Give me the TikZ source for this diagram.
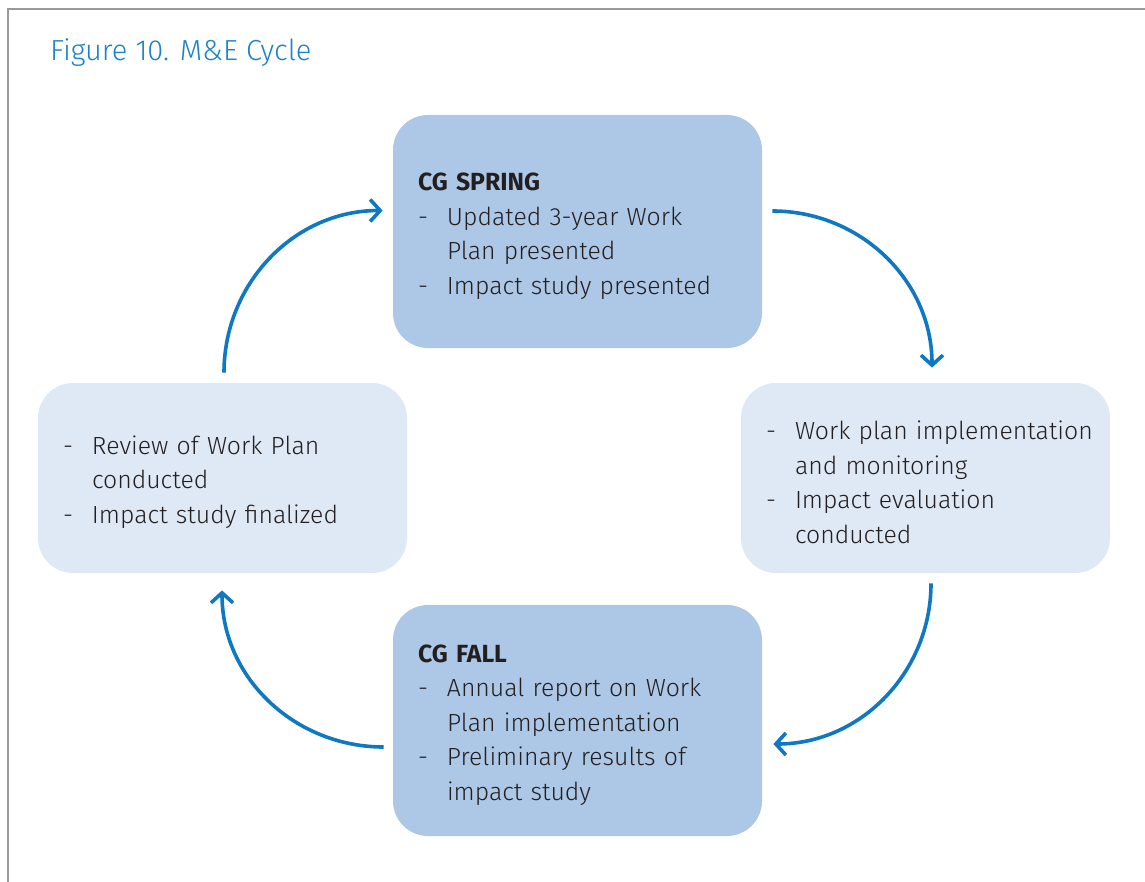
\documentclass[tikz,border=0pt]{standalone}
\usepackage{fontspec}
\setmainfont{Fira Sans Light}[BoldFont={Fira Sans Bold}]
\usepackage{tikz}
\usetikzlibrary{arrows.meta}
\definecolor{cgblue}{HTML}{ADC8E6}
\definecolor{paleblue}{HTML}{DEE9F5}
\definecolor{arrowblue}{HTML}{0E78C2}
\definecolor{titleblue}{HTML}{1B82C8}
\definecolor{textgray}{HTML}{231F20}
\newcommand\dashitem[1]{\makebox[14.5pt][l]{-}\mbox{#1}}
\newcommand\contline[1]{\hspace*{14.5pt}\mbox{#1}}
\newcommand\firstline{\rule{0pt}{13.5pt}}
\tikzset{
  phase/.style={draw=none, rounded corners=17.5pt, minimum width=184.5pt,
    text width=159.5pt, inner xsep=12.5pt, align=left, text=textgray,
    font=\fontsize{12.4}{17.25}\selectfont},
  cgbox/.style={phase, fill=cgblue},
  workbox/.style={phase, fill=paleblue},
  cyclearrow/.style={arrowblue, line width=1.8pt,
    -{Straight Barb[length=5pt,width=11pt,line width=1.8pt]}}
}

\begin{document}
\begin{tikzpicture}[x=0.5pt,y=-0.5pt]
\useasboundingbox (0,0) rectangle (1145,882);
\draw[gray!80, line width=1pt] (8,882) -- (8,9) -- (1145,9);
\node[anchor=west, text=titleblue, font=\fontsize{14.5}{17}\selectfont] (title) at (43,53) {Figure 10. M\&E Cycle};
\node[cgbox, minimum height=116.5pt] (spring) at (577.5,231.5)
  {\firstline\textbf{CG SPRING}\\ \dashitem{Updated 3-year Work}\\ \contline{Plan presented}\\ \dashitem{Impact study presented}};
\node[workbox, minimum height=95pt] (implement) at (925.5,478)
  {\firstline\dashitem{Work plan implementation}\\ \contline{and monitoring}\\ \dashitem{Impact evaluation}\\ \contline{conducted}};
\node[cgbox, minimum height=115.5pt] (fall) at (577.5,720.5)
  {\firstline\textbf{CG FALL}\\ \dashitem{Annual report on Work}\\ \contline{Plan implementation}\\ \dashitem{Preliminary results of}\\ \contline{impact study}};
\node[workbox, minimum height=95pt] (review) at (222.5,478)
  {\firstline\dashitem{Review of Work Plan}\\ \contline{conducted}\\ \dashitem{Impact study finalized}};
% the cycle, clockwise
\draw[cyclearrow] ([shift={(1.5,-10)}]review.north) to[out=90,in=180] ([shift={(-10,-21)}]spring.west);
\draw[cyclearrow] ([shift={(10,-20.5)}]spring.east) to[out=0,in=90] ([shift={(6.5,-15)}]implement.north);
\draw[cyclearrow] ([shift={(5.5,10)}]implement.south) to[out=-90,in=0] ([shift={(11,23.5)}]fall.east);
\draw[cyclearrow] ([shift={(-9,26.5)}]fall.west) to[out=180,in=-90] ([shift={(-0.5,17)}]review.south);
\end{tikzpicture}
\end{document}
